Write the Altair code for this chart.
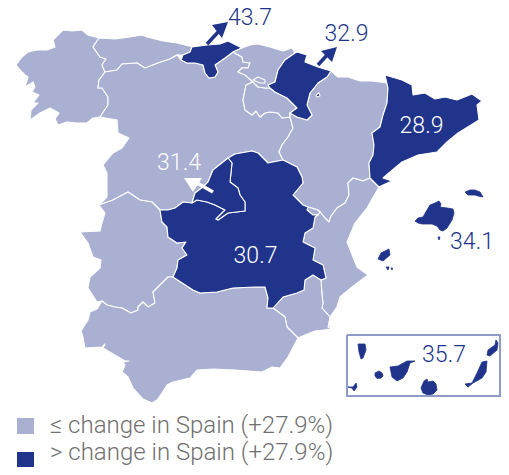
import altair as alt

LIGHT = "#A9B0D1"
DARK = "#20348B"
LOW = "≤ change in Spain (+27.9%)"
HIGH = "> change in Spain (+27.9%)"

galicia = [(99,38),(88,35),(82,30),(72,31),(63,30),(53,40),(55,47),(47,50),(37,50),(28,52),(22,57),(16,65),(20,70),(25,75),(28,77),(25,87),(33,82),(35,87),(32,92),(39,95),(33,103),(38,103),(31,110),(30,120),(40,113),(50,108),(59,113),(55,119),(58,125),(67,122),(77,123),(87,123),(93,118),(100,117),(108,105),(108,97),(102,88),(98,88),(99,80),(105,72),(102,65),(106,59),(100,57),(93,47)]
asturias = [(99,38),(115,39),(130,37),(142,35),(147,37),(163,41),(177,43),(193,47),(192,47),(190,52),(183,55),(177,55),(170,59),(158,63),(145,68),(137,63),(122,64),(117,70),(105,72),(102,65),(106,59),(100,57),(93,47)]
cantabria = [(181,60),(183,55),(190,52),(192,47),(207,45),(220,44),(228,41),(242,48),(233,52),(225,58),(215,65),(218,72),(215,77),(209,78),(205,73),(203,65),(195,63),(187,63)]
basque = [(242,48),(250,45),(258,44),(270,47),(283,51),(292,48),(295,53),(285,60),(278,70),(275,82),(268,85),(270,88),(265,88),(258,87),(253,82),(245,75),(238,72),(242,68),(248,68),(250,63),(243,62),(242,57),(233,52)]
rioja = [(246,85),(253,82),(258,87),(265,88),(270,88),(275,92),(287,98),(297,108),(290,113),(290,117),(282,118),(278,113),(270,112),(265,113),(260,117),(256,111),(252,115),(245,110),(243,100)]
navarra = [(295,53),(297,52),(307,55),(305,62),(318,67),(331,71),(327,77),(318,83),(310,93),(307,105),(312,115),(307,120),(297,117),(290,113),(297,108),(287,98),(275,92),(270,88),(268,85),(275,82),(278,70),(285,60)]
aragon = [(331,71),(338,77),(348,77),(360,81),(372,81),(387,83),(388,88),(387,103),(383,115),(380,127),(372,133),(374,145),(373,155),(369,163),(370,178),(363,181),(353,178),(348,183),(349,195),(345,203),(337,208),(331,216),(329,222),(325,218),(320,212),(318,210),(308,207),(303,205),(293,195),(303,183),(302,177),(297,167),(283,160),(279,152),(282,145),(288,137),(293,128),(290,117),(290,113),(297,117),(307,120),(312,115),(307,105),(310,93),(318,83),(327,77)]
petilla = [(316,95),(319,93),(320,96),(317,97)]
catalonia = [(385,75),(402,80),(412,85),(413,95),(425,93),(435,99),(445,97),(457,100),(472,94),(482,101),(477,105),(479,120),(458,133),(447,142),(437,152),(418,155),(402,162),(390,172),(383,178),(392,181),(383,185),(379,187),(370,178),(369,163),(373,155),(374,145),(372,133),(380,127),(383,115),(387,103),(388,88)]
valencia = [(370,178),(379,187),(367,208),(355,223),(347,242),(351,252),(357,267),(368,275),(352,287),(340,297),(337,307),(330,317),(328,323),(332,329),(328,327),(330,317),(322,308),(323,303),(322,295),(321,280),(326,278),(323,265),(313,260),(315,248),(303,242),(305,233),(313,228),(315,217),(320,212),(325,218),(329,222),(331,216),(337,208),(345,203),(349,195),(348,183),(353,178),(363,181)]
ademuz = [(308,207),(318,210),(320,212),(318,215),(313,215),(307,210)]
extremadura = [(99,205),(113,200),(128,192),(140,200),(152,202),(160,210),(162,222),(167,227),(168,237),(177,243),(186,242),(182,248),(187,255),(178,260),(177,268),(173,277),(168,277),(160,285),(153,292),(155,303),(148,307),(143,302),(138,307),(138,310),(131,313),(122,308),(115,307),(107,305),(102,301),(97,302),(88,288),(90,277),(100,268),(101,260),(93,257),(88,243),(80,232),(100,231),(102,223),(105,213)]
andalucia = [(102,301),(107,305),(115,307),(122,308),(131,313),(138,310),(138,307),(143,302),(148,307),(155,303),(153,292),(160,285),(168,277),(173,277),(193,290),(200,293),(217,292),(233,288),(255,287),(265,287),(268,298),(267,308),(273,308),(285,317),(287,327),(298,338),(288,357),(280,368),(272,367),(262,372),(235,370),(213,369),(197,370),(190,378),(173,382),(167,385),(162,393),(157,400),(152,403),(143,399),(133,388),(128,377),(122,372),(125,365),(123,362),(129,361),(125,361),(103,348),(105,344),(102,347),(85,348),(83,337),(81,331),(88,320),(90,312),(97,309)]
murcia = [(267,308),(273,308),(283,297),(297,293),(304,290),(305,280),(313,275),(321,280),(322,295),(323,303),(322,308),(330,317),(328,327),(332,329),(315,331),(305,335),(298,338),(287,327),(285,317),(273,308)]
madrid = [(228,158),(232,163),(230,182),(238,188),(240,195),(245,202),(245,211),(228,213),(218,220),(216,219),(225,210),(215,205),(207,202),(197,200),(192,203),(195,193),(203,187),(208,182),(213,170)]
clm = [(160,210),(168,210),(175,208),(183,202),(192,203),(197,200),(207,202),(215,205),(225,210),(216,219),(218,220),(228,213),(245,211),(245,202),(240,195),(238,188),(230,182),(232,163),(228,158),(235,154),(252,151),(258,153),(268,163),(283,160),(297,167),(302,177),(303,183),(293,195),(303,205),(308,207),(307,210),(313,215),(318,215),(315,217),(313,228),(305,233),(303,242),(315,248),(313,260),(323,265),(326,278),(321,280),(313,275),(305,280),(304,290),(297,293),(283,297),(273,308),(267,308),(268,298),(265,287),(255,287),(233,288),(217,292),(200,293),(193,290),(173,277),(177,268),(178,260),(187,255),(182,248),(186,242),(177,243),(168,237),(167,227),(162,222)]
cyl = [(105,72),(117,70),(122,64),(137,63),(145,68),(158,63),(170,59),(177,55),(181,60),(187,63),(195,63),(203,65),(205,73),(209,78),(215,77),(218,72),(215,65),(225,58),(233,52),(242,57),(243,62),(250,63),(248,68),(242,68),(238,72),(245,75),(253,82),(246,85),(243,100),(245,110),(252,115),(256,111),(260,117),(265,113),(270,112),(278,113),(282,118),(290,117),(293,128),(288,137),(282,145),(279,152),(283,160),(268,163),(258,153),(252,151),(235,154),(228,158),(213,170),(208,182),(203,187),(195,193),(192,203),(183,202),(175,208),(168,210),(160,210),(152,202),(140,200),(128,192),(113,200),(99,205),(107,197),(107,173),(103,165),(113,153),(122,148),(129,138),(118,133),(117,120),(100,117),(108,105),(108,97),(102,88),(98,88),(99,80)]
trevino = [(253,80),(258,77),(265,80),(265,83),(260,83)]

mallorca = [(415,221),(418,218),(423,217),(427,210),(430,205),(435,203),(439,201),(441,204),(440,207),(447,208),(453,209),(454,213),(452,220),(447,228),(443,231),(440,230),(437,226),(432,224),(427,224),(422,224),(418,223)]
menorca = [(465,192),(470,190),(475,190),(480,192),(483,197),(478,196),(475,195),(468,195)]
ibiza = [(378,259),(381,253),(389,249),(390,255),(383,261)]
formentera = [(386,267),(389,267),(388,270)]
formentera2 = [(391,268),(392.5,268),(392,270)]
cabrera = [(438,237),(440,237),(439,240)]
la_palma = [(358,344),(365,344),(366,350),(363,358),(361,359),(359,352)]
el_hierro = [(348,387),(353,387),(356,383),(357,387),(354,391),(352,388)]
la_gomera = [(375,373),(379,371),(382,373),(383,376),(381,378),(377,378.5),(375,376)]
tenerife = [(390,367),(398,366),(407,361),(415,361),(410,363),(407,372),(403,378),(397,381),(392,377)]
gran_canaria = [(424,381),(427,379),(428,382),(433,381),(436,384),(437,390),(433,394),(428,395),(423,393),(421,388)]
fuerteventura = [(465,384),(472,383),(477,373),(482,362),(487,361),(486,372),(482,378),(473,383),(468,387)]
lanzarote = [(487,355),(488,350),(495,345),(496,340),(498,343),(497,350),(490,356)]

inset_box = [(347,335),(500,335),(500,396),(347,396)]

stems = [[(207,44),(221,29)], [(318,65),(328,54)]]
heads = [[(212,25),(228,22),(222,38)], [(321,51),(337,47),(332,62)]]
white_stem = [(213,192),(197,183)]
white_head = [(184,178),(202,178),(193,192)]

label_text = ["43.7", "32.9", "28.9", "31.4", "30.7", "34.1", "35.7"]
label_x = [250, 346.5, 421.5, 179, 255.5, 472, 444]
label_y = [18, 34, 125.5, 163, 255.5, 242, 355]
label_color = [DARK, DARK, "white", "white", "white", DARK, DARK]

legend_labels = [LOW, HIGH]
legend_label_x = [50, 50]
legend_label_y = [426, 453]
legend_squares = [[(17,418),(34,418),(34,434),(17,434)], [(17,452),(34,452),(34,467),(17,467)]]


def poly(rings, cls):
    return {"type": "Feature", "properties": {"cls": cls},
            "geometry": {"type": "Polygon", "coordinates": [[list(p) for p in r + r[:1]] for r in rings]}}


def line(pts):
    return {"type": "Feature", "properties": {},
            "geometry": {"type": "LineString", "coordinates": [list(p) for p in pts]}}


proj = dict(type="identity", scale=1, translate=[-8, -8])

main_regions = [(galicia, LOW), (asturias, LOW), (cyl, LOW), (rioja, LOW), (aragon, LOW),
                (valencia, LOW), (ademuz, LOW), (murcia, LOW), (extremadura, LOW), (andalucia, LOW),
                (cantabria, HIGH), (basque, LOW), (trevino, LOW), (navarra, HIGH), (petilla, HIGH),
                (catalonia, HIGH), (clm, HIGH), (madrid, HIGH)]
islands = [mallorca, menorca, ibiza, formentera, formentera2, cabrera, la_palma, el_hierro,
           la_gomera, tenerife, gran_canaria, fuerteventura, lanzarote]

color = alt.Color("properties.cls:N", scale=alt.Scale(domain=[LOW, HIGH], range=[LIGHT, DARK]), legend=None)

regions_layer = alt.Chart(alt.Data(values=[poly([r], c) for r, c in main_regions])).mark_geoshape(
    stroke="white", strokeWidth=1.1, strokeJoin="round").encode(color=color).project(**proj)
islands_layer = alt.Chart(alt.Data(values=[poly([r], HIGH) for r in islands])).mark_geoshape(
    stroke=DARK, strokeWidth=0.8, strokeJoin="round").encode(color=color).project(**proj)
squares_layer = alt.Chart(alt.Data(values=[poly([s], c) for s, c in zip(legend_squares, legend_labels)])).mark_geoshape(
    strokeWidth=0).encode(color=color).project(**proj)
box_layer = alt.Chart(alt.Data(values=[line(inset_box + inset_box[:1])])).mark_geoshape(
    filled=False, stroke="#8F9BCB", strokeWidth=2).project(**proj)
stem_layer = alt.Chart(alt.Data(values=[line(s) for s in stems])).mark_geoshape(
    filled=False, stroke=DARK, strokeWidth=3.5).project(**proj)
head_layer = alt.Chart(alt.Data(values=[poly([h], HIGH) for h in heads])).mark_geoshape(
    fill=DARK, strokeWidth=0).project(**proj)
wstem_layer = alt.Chart(alt.Data(values=[line(white_stem)])).mark_geoshape(
    filled=False, stroke="white", strokeWidth=3.5).project(**proj)
whead_layer = alt.Chart(alt.Data(values=[poly([white_head], HIGH)])).mark_geoshape(
    fill="white", strokeWidth=0).project(**proj)
labels_layer = alt.Chart(alt.Data(values=[
    {"t": t, "x": x, "y": y, "c": c} for t, x, y, c in zip(label_text, label_x, label_y, label_color)
])).mark_text(font="Roboto", fontSize=23, fontWeight=300).encode(
    longitude="x:Q", latitude="y:Q", text="t:N", color=alt.Color("c:N", scale=None, legend=None)
).project(**proj)
legend_text_layer = alt.Chart(alt.Data(values=[
    {"t": t, "x": x, "y": y} for t, x, y in zip(legend_labels, legend_label_x, legend_label_y)
])).mark_text(font="Roboto", fontSize=24, fontWeight=300, align="left", color="#707070").encode(
    longitude="x:Q", latitude="y:Q", text="t:N"
).project(**proj)

chart = alt.layer(regions_layer, islands_layer, squares_layer, box_layer, stem_layer, head_layer,
                  wstem_layer, whead_layer, labels_layer, legend_text_layer).resolve_scale(color="independent").properties(
    width=493, height=459, padding=0, background="white"
).configure_view(stroke=None)

chart.save("out.html", embed_options={"renderer": "svg", "actions": False})
